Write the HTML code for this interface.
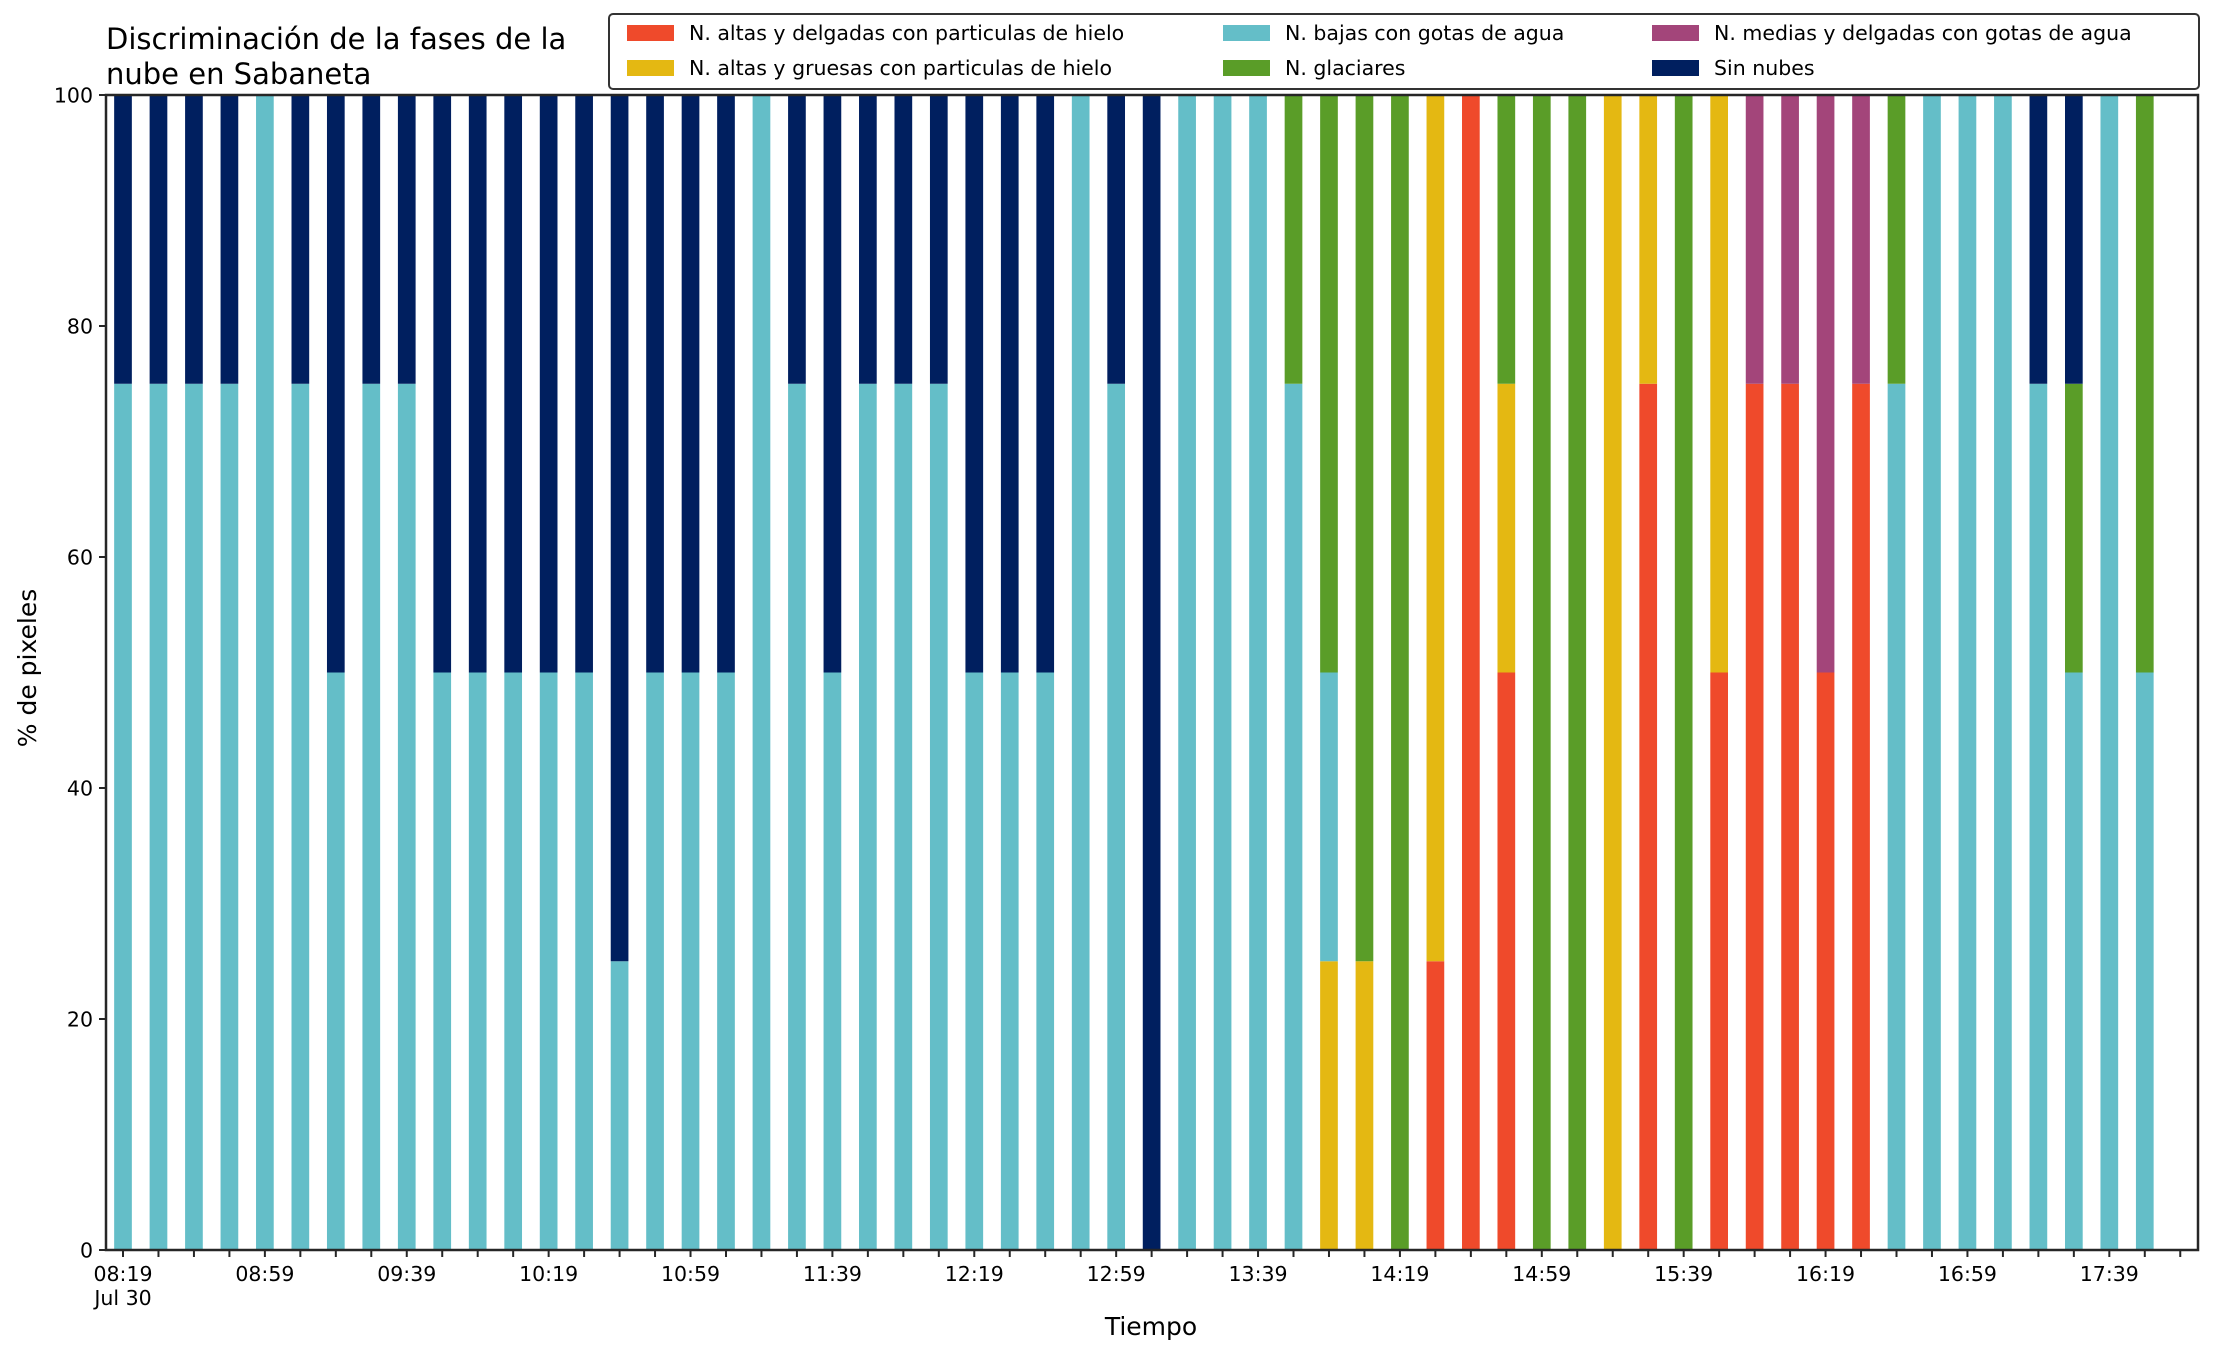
<!DOCTYPE html>
<html><head><meta charset="utf-8"><style>
html,body{margin:0;padding:0;background:#fff}
svg{display:block;font-family:"DejaVu Sans","Liberation Sans",sans-serif}
</style></head><body>
<svg id="chart" width="2216" height="1355" viewBox="0 0 2216 1355" xmlns="http://www.w3.org/2000/svg">
<rect x="0" y="0" width="2216" height="1355" fill="#fff"/>
<text x="106" y="49" font-size="29" fill="#000">Discriminación de la fases de la</text>
<text x="106" y="84" font-size="29" fill="#000">nube en Sabaneta</text>
<g id="bars"></g>
<g id="axes"></g>
<text x="1151" y="1335" font-size="25" text-anchor="middle" fill="#000">Tiempo</text>
<text transform="translate(36,668) rotate(-90)" font-size="25" text-anchor="middle" fill="#000">% de pixeles</text>
<g id="legend"></g>
</svg>
<script>
const seriesNames = ["N. altas y delgadas con particulas de hielo","N. altas y gruesas con particulas de hielo","N. bajas con gotas de agua","N. glaciares","N. medias y delgadas con gotas de agua","Sin nubes"];
const seriesColors = ["#EF4A2B","#E4B812","#64BEC8","#5A9D28","#A3457A","#001F5F"];
const red =    [0,0,0,0,0,0,0,0,0,0, 0,0,0,0,0,0,0,0,0,0, 0,0,0,0,0,0,0,0,0,0, 0,0,0,0,0,0,0,25,100,50, 0,0,0,75,0,50,75,75,50,75, 0,0,0,0,0,0,0,0];
const yellow = [0,0,0,0,0,0,0,0,0,0, 0,0,0,0,0,0,0,0,0,0, 0,0,0,0,0,0,0,0,0,0, 0,0,0,0,25,25,0,75,0,25, 0,0,100,25,0,50,0,0,0,0, 0,0,0,0,0,0,0,0];
const cyan =   [75,75,75,75,100,75,50,75,75,50, 50,50,50,50,25,50,50,50,100,75, 50,75,75,75,50,50,50,100,75,0, 100,100,100,75,25,0,0,0,0,0, 0,0,0,0,0,0,0,0,0,0, 75,100,100,100,75,50,100,50];
const green =  [0,0,0,0,0,0,0,0,0,0, 0,0,0,0,0,0,0,0,0,0, 0,0,0,0,0,0,0,0,0,0, 0,0,0,25,50,75,100,0,0,25, 100,100,0,0,100,0,0,0,0,0, 25,0,0,0,0,25,0,50];
const purple = [0,0,0,0,0,0,0,0,0,0, 0,0,0,0,0,0,0,0,0,0, 0,0,0,0,0,0,0,0,0,0, 0,0,0,0,0,0,0,0,0,0, 0,0,0,0,0,25,25,50,25, 0,0,0,0,0,0,0,0,0].slice(0,0).concat([0,0,0,0,0,0,0,0,0,0, 0,0,0,0,0,0,0,0,0,0, 0,0,0,0,0,0,0,0,0,0, 0,0,0,0,0,0,0,0,0,0, 0,0,0,0,0,0,25,25,50,25, 0,0,0,0,0,0,0,0]);
const navy =   [25,25,25,25,0,25,50,25,25,50, 50,50,50,50,75,50,50,50,0,25, 50,25,25,25,50,50,50,0,25,100, 0,0,0,0,0,0,0,0,0,0, 0,0,0,0,0,0,0,0,0,0, 0,0,0,0,25,25,0,0];
const yTicks = [0,20,40,60,80,100];
const xTickLabels = ["08:19","08:59","09:39","10:19","10:59","11:39","12:19","12:59","13:39","14:19","14:59","15:39","16:19","16:59","17:39"];
const nTicks = 59;

const NS="http://www.w3.org/2000/svg";
const L=106,R=2198,T=95,B=1250;
const x0=123, step=35.47, bw=17.7;
const xPos=i=>x0+i*step;
const yPos=v=>B-(v/100)*(B-T);
const series=[red,yellow,cyan,green,purple,navy];
function mk(tag,attrs,parent){const e=document.createElementNS(NS,tag);for(const k in attrs)e.setAttribute(k,attrs[k]);parent.appendChild(e);return e;}
const gb=document.getElementById('bars');
const nBars=cyan.length;
for(let i=0;i<nBars;i++){
  let acc=0;
  for(let s=0;s<series.length;s++){
    const v=series[s][i];
    if(!v)continue;
    const r=mk('rect',{x:xPos(i)-bw/2,y:yPos(acc+v),width:bw,height:yPos(acc)-yPos(acc+v),fill:seriesColors[s]},gb);
    
    
    acc+=v;
  }
}
const ga=document.getElementById('axes');
const fr=mk('rect',{x:L,y:T,width:R-L,height:B-T,fill:'none',stroke:'#262626','stroke-width':2.5},ga);


yTicks.forEach(v=>{
  const tk=mk('line',{x1:L-7,x2:L,y1:yPos(v),y2:yPos(v),stroke:'#262626','stroke-width':2},ga);
  
  
  const t=mk('text',{x:L-13,y:yPos(v)+7.5,'font-size':20.5,'text-anchor':'end',fill:'#000'},ga);
  t.textContent=v;
  
  
});
for(let i=0;i<nTicks;i++){
  const tk=mk('line',{x1:xPos(i),x2:xPos(i),y1:B,y2:B+7,stroke:'#262626','stroke-width':2},ga);
  
  
}
xTickLabels.forEach((lab,j)=>{
  const t=mk('text',{x:xPos(j*4),y:1281,'font-size':20.5,'text-anchor':'middle',fill:'#000'},ga);
  t.textContent=lab;
  
  
});
const jt=mk('text',{x:xPos(0),y:1305,'font-size':20.5,'text-anchor':'middle',fill:'#000'},ga);
jt.textContent='Jul 30';



const gl=document.getElementById('legend');
const lb=mk('rect',{x:609,y:14,width:1590,height:75,rx:4,fill:'#fff','fill-opacity':0.8,stroke:'#333','stroke-width':2},gl);


const colX=[627,1223,1652], rowY=[25,60];
seriesNames.forEach((n,s)=>{
  const c=Math.floor(s/2), r=s%2;
  const sw=mk('rect',{x:colX[c],y:rowY[r],width:47,height:16,fill:seriesColors[s]},gl);
  
  
  const t=mk('text',{x:colX[c]+62,y:rowY[r]+15,'font-size':20.5,fill:'#000'},gl);
  t.textContent=n;
  
  
});
</script>
</body></html>
